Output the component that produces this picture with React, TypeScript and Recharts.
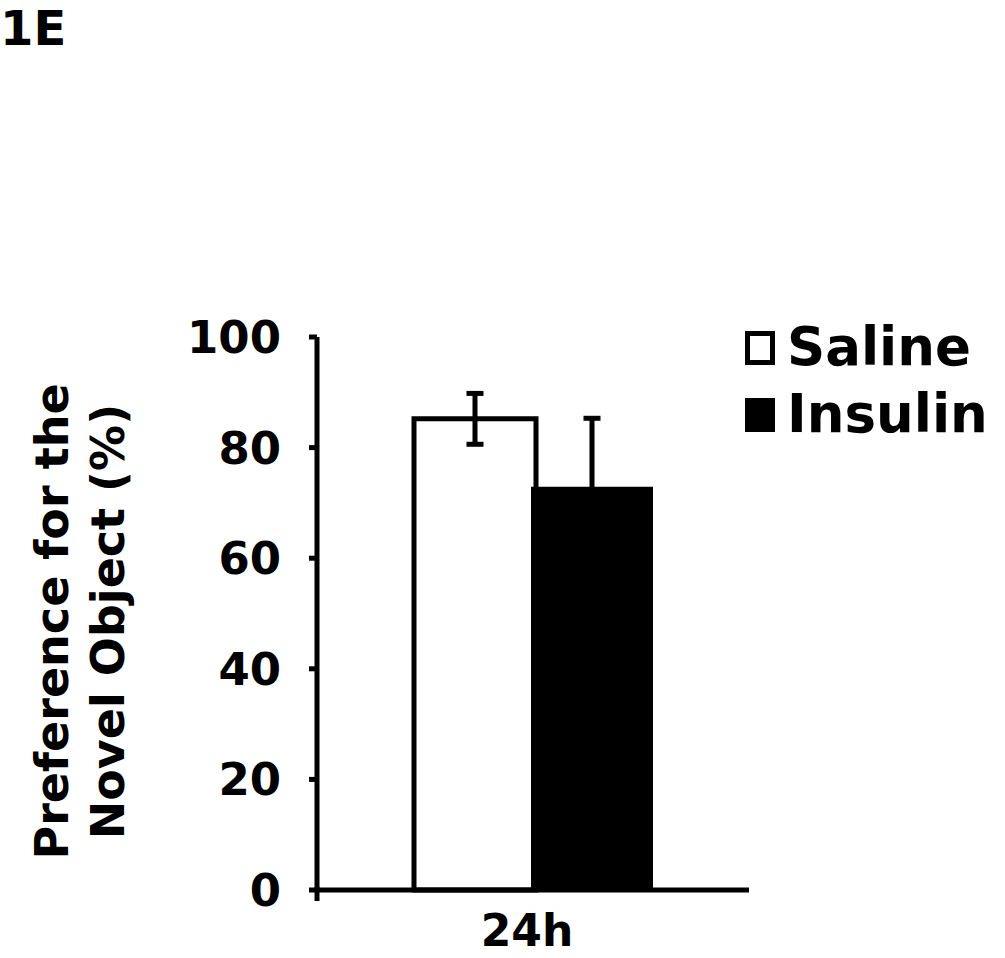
import React from "react";
import { Bar, BarChart, ErrorBar, Legend, XAxis, YAxis } from "recharts";

const categories = ["24h"];
const salineMean = [85.2];
const salineErr = [4.6];
const insulinMean = [72.9];
const insulinErr = [12.4];
const yTicks = [0, 20, 40, 60, 80, 100];
const legendOrder = ["Saline", "Insulin"];

const FONT = "'DejaVu Sans', Verdana, sans-serif";

const data = categories.map((name, i) => ({
  name,
  saline: salineMean[i],
  salineErr: salineErr[i],
  insulin: insulinMean[i],
  insulinErr: insulinErr[i],
}));

// x tick: label plus a small tick at the left edge of the category band
function XTick(props: any) {
  const { x, y, payload } = props;
  const left = x - (payload.offset || 0);
  return (
    <g>
      <line x1={left} x2={left} y1={y - 3} y2={y + 11} stroke="#000" strokeWidth={5} />
      <text x={x - 6} y={y + 56} textAnchor="middle" fontSize={44} fontWeight="bold" fontFamily={FONT} fill="#000">
        {payload.value}
      </text>
    </g>
  );
}

function YLabel(props: any) {
  const vb = props.viewBox || { x: 0, y: 337, width: 317, height: 553 };
  const cy = vb.y + vb.height / 2 + 8;
  const lines = [
    { text: "Preference for the", x: vb.x + 68 },
    { text: "Novel Object (%)", x: vb.x + 124 },
  ];
  return (
    <g>
      {lines.map((l) => (
        <text
          key={l.text}
          x={l.x}
          y={cy}
          transform={`rotate(-90, ${l.x}, ${cy})`}
          textAnchor="middle"
          fontSize={46}
          fontWeight="bold"
          fontFamily={FONT}
          fill="#000"
        >
          {l.text}
        </text>
      ))}
    </g>
  );
}

function LegendBox(props: any) {
  const items = [...(props.payload || [])].sort(
    (a: any, b: any) => legendOrder.indexOf(a.value) - legendOrder.indexOf(b.value)
  );
  return (
    <svg width={262} height={130} style={{ overflow: "visible" }}>
      {items.map((entry: any, i: number) => (
        <g key={entry.value} transform={`translate(0, ${i * 67})`}>
          <rect x={6.5} y={12.5} width={25} height={29} fill={entry.color} stroke="#000" strokeWidth={5} />
          <text x={46} y={44} fontSize={53} fontWeight="bold" fontFamily={FONT} fill="#000">
            {entry.value}
          </text>
        </g>
      ))}
    </svg>
  );
}

export default function App() {
  return (
    <div style={{ position: "absolute", left: 0, top: 0, width: 1005, height: 958, overflow: "hidden", background: "#fff" }}>
      <svg width={120} height={60} style={{ position: "absolute", left: 0, top: 0, zIndex: 2 }}>
        <text x={0} y={45} fontSize={48} fontWeight="bold" fontFamily={FONT} fill="#000">
          1E
        </text>
      </svg>
      <BarChart
        width={1005}
        height={958}
        data={data}
        margin={{ top: 337, right: 256, left: 0, bottom: 0 }}
        barGap={-5}
        barCategoryGap={97}
      >
        <XAxis
          dataKey="name"
          height={68}
          axisLine={{ stroke: "#000", strokeWidth: 5 }}
          tickLine={false}
          tickSize={0}
          tickMargin={0}
          tick={<XTick />}
        />
        <YAxis
          width={317}
          domain={[0, 100]}
          ticks={yTicks}
          interval={0}
          axisLine={{ stroke: "#000", strokeWidth: 5 }}
          tickLine={{ stroke: "#000", strokeWidth: 5 }}
          tickSize={8}
          tickMargin={28}
          tick={{ fontSize: 45, fontWeight: "bold", fontFamily: FONT, fill: "#000" }}
          label={<YLabel />}
        />
        <Legend
          layout="horizontal"
          verticalAlign="middle"
          align="center"
          content={<LegendBox />}
          wrapperStyle={{ position: "absolute", left: 741, top: 321, width: 264 }}
        />
        <Bar dataKey="saline" name="Saline" fill="#ffffff" stroke="#000" strokeWidth={5} isAnimationActive={false}>
          <ErrorBar dataKey="salineErr" width={8.5} stroke="#000" strokeWidth={5} />
        </Bar>
        <Bar dataKey="insulin" name="Insulin" fill="#000000" isAnimationActive={false}>
          <ErrorBar dataKey="insulinErr" width={8.5} stroke="#000" strokeWidth={5} />
        </Bar>
      </BarChart>
    </div>
  );
}
